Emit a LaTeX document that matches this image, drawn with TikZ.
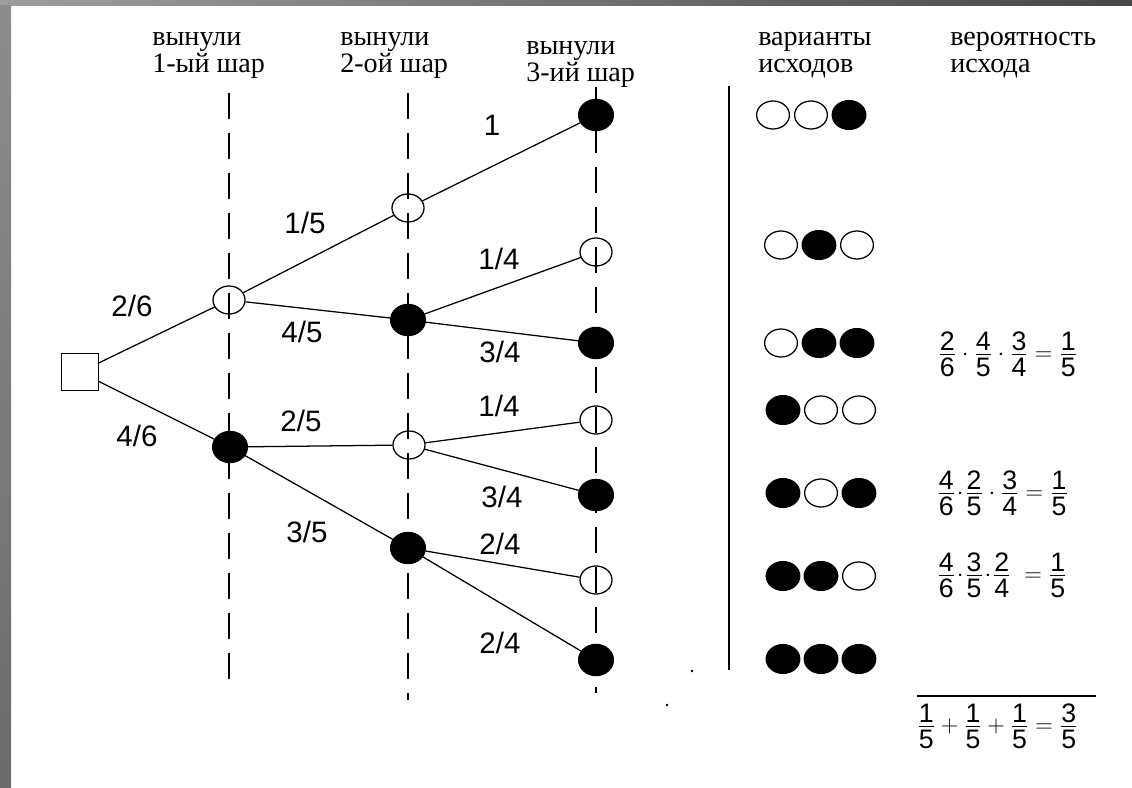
\documentclass[tikz,border=0pt]{standalone}
\usepackage{fontspec}
\setmainfont{Liberation Serif}
\newfontfamily\lblfont{Liberation Sans}
\usetikzlibrary{shapes.geometric}
\newcommand{\fr}[2]{\frac{\mbox{#1}\rule[-2.5pt]{0pt}{0pt}}{\mbox{#2}\rule{0pt}{15pt}}}
\tikzset{
  edge/.style={line width=0.9pt},
  level/.style={line width=1.2pt,dash pattern=on 0.65cm off 0.35cm},
  wball/.style={draw,ellipse,line width=0.9pt,minimum width=0.8cm,minimum height=0.7cm,inner sep=0pt},
  bball/.style={draw,fill=black,ellipse,line width=0.9pt,minimum width=0.87cm,minimum height=0.78cm,inner sep=0pt},
  wout/.style={draw,ellipse,line width=0.9pt,minimum width=0.82cm,minimum height=0.7cm,inner sep=0pt},
  bout/.style={draw,fill=black,ellipse,line width=0.9pt,minimum width=0.84cm,minimum height=0.72cm,inner sep=0pt},
  lbl/.style={font=\lblfont\fontsize{21}{24}\selectfont,inner sep=0pt},
  hdr/.style={font=\fontsize{20}{19.2}\selectfont,align=left,anchor=west,inner sep=0pt},
  frm/.style={font=\lblfont\fontsize{19}{22}\selectfont,anchor=west,inner sep=0pt}
}
\begin{document}
\begin{tikzpicture}[x={(0.025cm,0)},y={(0,-0.025cm)}]
  \useasboundingbox (0,0) rectangle (1132,788);
  % frame
  \shade[left color=black!38,right color=black!72] (0,0) rectangle (1132,6);
  \shade[top color=black!45,bottom color=black!58] (0,6) rectangle (11,788);
  % headers
  \node[hdr] (h1) at (152,56) {вынули\\1-ый шар};
  \node[hdr] (h2) at (340,56) {вынули\\2-ой шар};
  \node[hdr] (h3) at (526,65) {вынули\\3-ий шар};
  \node[hdr] (h4) at (758,55) {варианты\\исходов};
  \node[hdr] (h5) at (950,55) {вероятность\\исхода};
  % levels
  \coordinate (l1t) at (229,93);  \coordinate (l1b) at (229,688);
  \coordinate (l2t) at (408,93);  \coordinate (l2b) at (408,700);
  \coordinate (l3t) at (596,87);  \coordinate (l3b) at (596,693);
  \draw[level] (l1t) -- (l1b);
  \draw[level] (l2t) -- (l2b);
  \draw[level] (l3t) -- (l3b);
  \coordinate (sept) at (729,86); \coordinate (sepb) at (729,670);
  \draw[line width=2pt] (sept) -- (sepb);
  % tree
  \node[draw,line width=0.9pt,minimum size=0.92cm,inner sep=0pt] (root) at (80,372) {};
  \node[wball] (a1) at (229,300) {};
  \node[bball] (a2) at (230,447) {};
  \node[wball] (b1) at (408,208) {};
  \node[bball] (b2) at (408,320) {};
  \node[wball] (b3) at (409,445) {};
  \node[bball] (b4) at (408,548) {};
  \node[bball] (c1) at (596,115) {};
  \node[wball] (c2) at (596,252) {};
  \node[bball] (c3) at (596,343) {};
  \node[wball] (c4) at (596,420) {};
  \node[bball] (c5) at (596,495) {};
  \node[wball] (c6) at (596,580) {};
  \node[bball] (c7) at (596,660) {};
  \draw[edge] (root) -- (a1);
  \draw[edge] (root) -- (a2);
  \draw[edge] (a1) -- (b1);
  \draw[edge] (a1) -- (b2);
  \draw[edge] (a2) -- (b3);
  \draw[edge] (a2) -- (b4);
  \draw[edge] (b1) -- (c1);
  \draw[edge] (b2) -- (c2);
  \draw[edge] (b2) -- (c3);
  \draw[edge] (b3) -- (c4);
  \draw[edge] (b3) -- (c5);
  \draw[edge] (b4) -- (c6);
  \draw[edge] (b4) -- (c7);
  % probabilities on branches
  \node[lbl] (pa1) at (132,306) {2/6};
  \node[lbl] (pa2) at (137,436) {4/6};
  \node[lbl] (pb1) at (305,223) {1/5};
  \node[lbl] (pb2) at (302,332) {4/5};
  \node[lbl] (pb3) at (301,421) {2/5};
  \node[lbl] (pb4) at (307,532) {3/5};
  \node[lbl] (pc1) at (492,125) {1};
  \node[lbl] (pc2) at (499,259) {1/4};
  \node[lbl] (pc3) at (500,352) {3/4};
  \node[lbl] (pc4) at (499,406) {1/4};
  \node[lbl] (pc5) at (502,497) {3/4};
  \node[lbl] (pc6) at (500,544) {2/4};
  \node[lbl] (pc7) at (500,643) {2/4};
  % outcomes
  \foreach \yy/\xx/\pa/\pb/\pc [count=\r] in
    {115/773/wout/wout/bout, 245/781/wout/bout/wout, 343/781/wout/bout/bout,
     410/783/bout/wout/wout, 493/783/bout/wout/bout, 576/783/bout/bout/wout,
     659/783/bout/bout/bout}
  {
    \node[\pa] (r\r a) at (\xx,\yy) {};
    \node[\pb] (r\r b) at (\xx+38,\yy) {};
    \node[\pc] (r\r c) at (\xx+76,\yy) {};
  }
  % products
  \node[frm] (f3) at (938,354) {$\fr{2}{6}\cdot\fr{4}{5}\cdot\fr{3}{4}=\fr{1}{5}$};
  \node[frm] (f5) at (937,493) {$\fr{4}{6}\!\cdot\!\fr{2}{5}\cdot\fr{3}{4}=\fr{1}{5}$};
  \node[frm] (f6) at (937,575) {$\fr{4}{6}\!\cdot\!\fr{3}{5}\!\cdot\!\fr{2}{4}\;=\fr{1}{5}$};
  \draw[line width=1.4pt] (917,696) -- (1096,696);
  \node[frm] (fs) at (917,726) {$\fr{1}{5}+\fr{1}{5}+\fr{1}{5}=\fr{3}{5}$};
  % stray dots
  \fill (692,671) circle (1pt);
  \fill (667,705) circle (1pt);
\end{tikzpicture}
\end{document}
